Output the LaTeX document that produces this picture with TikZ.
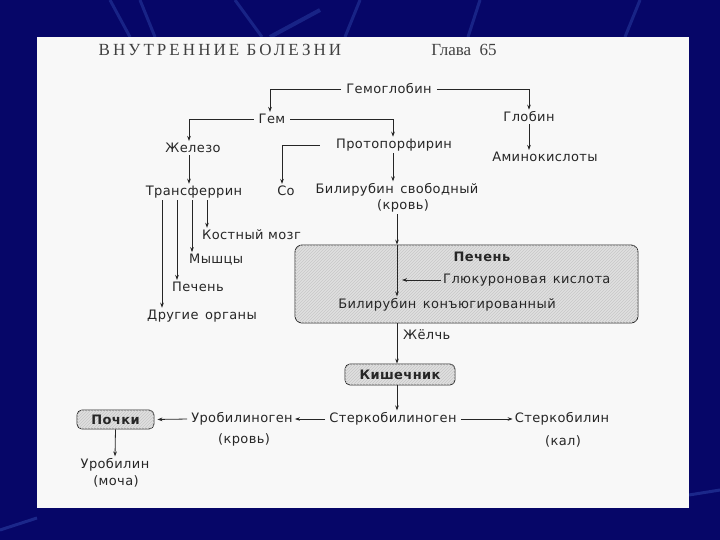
\documentclass[tikz,border=0pt]{standalone}
\usepackage{fontspec}
\setmainfont{DejaVu Sans}[LetterSpace=3]
\newfontfamily\hdrfont{Liberation Serif}
\usetikzlibrary{patterns,arrows.meta}
\definecolor{navy}{RGB}{6,6,104}
\definecolor{streak}{RGB}{60,90,190}
\definecolor{ink}{RGB}{38,38,38}
\definecolor{pageclr}{RGB}{248,248,248}
\newcommand{\ws}{\hspace{0.5em}}
\begin{document}
\begin{tikzpicture}[x=1pt,y=-1pt,
  lbl/.style={font=\fontsize{13}{15}\selectfont, text=ink, inner sep=2pt},
  blbl/.style={font=\fontsize{13}{15}\selectfont\bfseries, text=ink, inner sep=2pt},
  arr/.style={draw=ink, line width=0.8pt, -{Stealth[length=5pt,width=3.6pt]}},
  ln/.style={draw=ink, line width=0.8pt},
  hbox/.style={draw=ink, line width=0.8pt, rounded corners=7pt, fill=black!12,
     postaction={pattern=north east lines, pattern color=black!22}},
  hdr/.style={font=\hdrfont\fontsize{17}{19}\selectfont, text=black!75, inner sep=0pt}]
\useasboundingbox (0,0) rectangle (720,540);
% slide background
\fill[navy] (0,0) rectangle (720,540);
\draw[streak, opacity=0.35, line width=3pt] (110,0) -- (130,37);
\draw[streak, opacity=0.35, line width=3pt] (140,0) -- (155,37);
\draw[streak, opacity=0.35, line width=3pt] (235,0) -- (262,37);
\draw[streak, opacity=0.35, line width=4pt] (270,37) -- (320,10);
\draw[streak, opacity=0.35, line width=3pt] (360,0) -- (345,37);
\draw[streak, opacity=0.35, line width=3pt] (480,0) -- (468,37);
\draw[streak, opacity=0.35, line width=3pt] (640,0) -- (625,37);
\draw[streak, opacity=0.4, line width=3pt] (0,530) -- (37,518);
\draw[streak, opacity=0.4, line width=3pt] (689,495) -- (720,490);
% page
\fill[pageclr] (37,37) rectangle (689,508);
\node[hdr] (h1) at (220,50) {\addfontfeature{LetterSpace=18}ВНУТРЕННИЕ БОЛЕЗНИ};
\node[hdr] (h2) at (464,50) {Глава\ \ 65};

% nodes
\node[lbl] (hb) at (389,89) {Гемоглобин};
\node[lbl] (gem) at (272,119) {Гем};
\node[lbl] (glob) at (529,117) {Глобин};
\node[lbl] (amino) at (545,157) {Аминокислоты};
\node[lbl] (zhel) at (193,148) {Железо};
\node[lbl] (proto) at (394,145) {Протопорфирин};
\node[lbl] (co) at (286,191) {Со};
\node[lbl] (bilf) at (397,190) {Билирубин\ws свободный};
\node[lbl] (krov1) at (403,206) {(кровь)};
\node[lbl] (trans) at (194,192) {Трансферрин};
\node[lbl, anchor=west] (kost) at (200,235) {Костный мозг};
\node[lbl, anchor=west] (mysh) at (187,260) {Мышцы};
\node[lbl, anchor=west] (pech) at (170,287) {Печень};
\node[lbl] (drug) at (202,316) {Другие\ws органы};

\node[hbox, minimum width=343pt, minimum height=78pt] (pechbox) at (466.5,284) {};
\node[blbl] (pechlbl) at (482,257) {Печень};
\node[lbl, anchor=west] (gluk) at (441,280) {Глюкуроновая\ws кислота};
\node[lbl] (bilc) at (447,305) {Билирубин\ws конъюгированный};
\node[lbl, anchor=west] (zhelch) at (401,335) {Жёлчь};
\node[hbox, blbl, rounded corners=5pt, minimum width=110pt, minimum height=21pt] (kish) at (400,374.5) {Кишечник};

\node[lbl] (sterkgen) at (393,419) {Стеркобилиноген};
\node[lbl] (sterk) at (562,419) {Стеркобилин};
\node[lbl] (kal) at (563,441) {(кал)};
\node[lbl] (urogen) at (242,419) {Уробилиноген};
\node[lbl] (krov2) at (244,440) {(кровь)};
\node[hbox, blbl, rounded corners=5pt, minimum width=77pt, minimum height=19pt] (pochki) at (115.5,419.5) {Почки};
\node[lbl] (urob) at (115,465) {Уробилин};
\node[lbl] (mocha) at (116,481) {(моча)};

% connectors
\coordinate (vx) at (397,0);
\coordinate (glend) at (402,280);
\draw[arr, shorten <=3pt] (hb.west) -| ([xshift=-2pt]gem.north);
\draw[arr, shorten <=3pt] (hb.east) -| (glob.north);
\draw[arr] (glob.south) -- (glob.south |- amino.north);
\draw[arr, shorten <=3pt] (gem.west) -| ([xshift=-4pt]zhel.north);
\draw[arr, shorten <=3pt] (gem.east) -| ([xshift=-1pt]proto.north);
\draw[arr, shorten <=14pt] (proto.west) -| ([xshift=-4pt]co.north);
\draw[arr] ([xshift=-1pt]proto.south) -- ([xshift=-1pt]proto.south |- bilf.north);
\draw[arr] ([xshift=-4pt]zhel.south) -- ([xshift=-4pt]zhel.south |- trans.north);
\draw[arr] ([xshift=13pt]trans.south) -- ([xshift=13pt]trans.south |- kost.north);
\draw[arr] ([xshift=-2pt]trans.south) -- ([xshift=-2pt]trans.south |- mysh.north);
\draw[arr] ([xshift=-17pt]trans.south) -- ([xshift=-17pt]trans.south |- pech.north);
\draw[arr] ([xshift=-32pt]trans.south) -- ([xshift=-32pt]trans.south |- drug.north);
\draw[arr] (krov1.south -| vx) -- (pechbox.north -| vx);
\draw[arr] (pechbox.north -| vx) -- (bilc.north -| vx);
\draw[arr] (gluk.west) -- (glend);
\draw[arr] (pechbox.south -| vx) -- (kish.north -| vx);
\draw[arr] (kish.south -| vx) -- (sterkgen.north -| vx);
\draw[arr, shorten <=2pt] (sterkgen.east) -- (sterk.west);
\draw[arr, shorten <=2pt] (sterkgen.west) -- (urogen.east);
\draw[arr, shorten <=2pt, shorten >=3pt] (urogen.west) -- (pochki.east);
\draw[arr] (pochki.south) -- (urob.north);
\end{tikzpicture}
\end{document}
